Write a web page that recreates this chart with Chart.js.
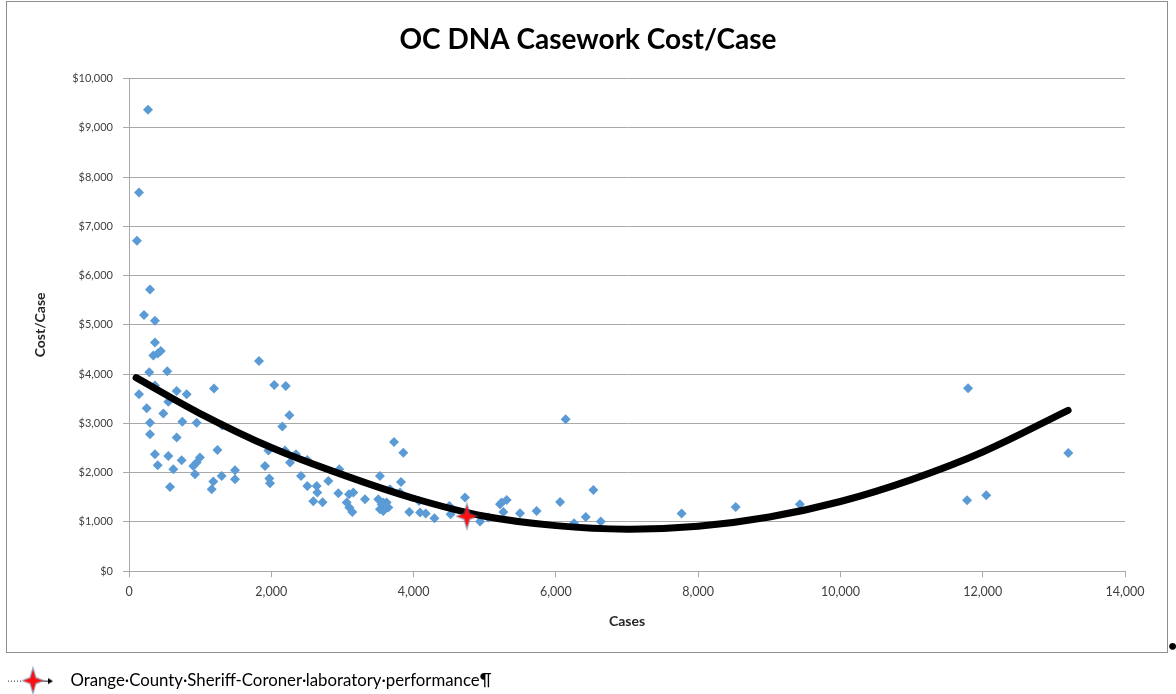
<!DOCTYPE html>
<html>
<head>
<meta charset="utf-8">
<script src="https://cdn.jsdelivr.net/npm/chart.js@4.4.1/dist/chart.umd.min.js"></script>
<style>
  html, body { margin: 0; padding: 0; background: #fff; overflow: hidden; }
  #wrap { width: 1176px; height: 700px; }
</style>
</head>
<body>
<div id="wrap"><canvas id="costChart" width="1176" height="700"></canvas></div>
<script>
// --- DATA ---
const caseCounts = [
  267, 141, 112, 295, 211, 365, 365, 342, 446, 403, 285, 538, 141, 365, 670, 811,
  1195, 249, 482, 553, 295, 749, 951, 1310, 295, 670, 1243, 365, 553, 740, 403, 623,
  997, 951, 904, 928, 576, 1185, 1303, 1162, 1490, 1490, 1827, 2042, 2203, 2254, 2155,
  2193, 1960, 2347, 2263, 2506, 1912, 1972, 1982, 2418, 2638, 2506, 2647, 2802, 2956,
  2942, 2591, 2721, 3092, 3153, 3317, 3060, 3097, 3139, 3527, 3823, 3725, 3856, 3504,
  3574, 3527, 3645, 3621, 3551, 3574, 3669, 3809, 3940, 4077, 4091, 4171, 4293, 4503,
  4520, 4723, 4934, 5050, 5215, 5239, 5309, 5262, 5496, 5730, 6059, 6137, 6527, 6420,
  6631, 6255, 7768, 8528, 9430, 11794, 11780, 12050, 13203
];
const costPerCase = [
  9370, 7690, 6710, 5720, 5200, 5085, 4645, 4380, 4470, 4420, 4040, 4060, 3590, 3770, 3660, 3590,
  3710, 3306, 3199, 3440, 3016, 3036, 3016, 2960, 2779, 2712, 2460, 2373, 2339, 2251, 2150, 2069,
  2306, 2205, 2136, 1968, 1710, 1819, 1933, 1663, 2049, 1866, 4266, 3780, 3760, 3164, 2935,
  2450, 2450, 2373, 2205, 2258, 2136, 1880, 1785, 1933, 1730, 1730, 1596, 1832, 2069,
  1582, 1420, 1400, 1562, 1596, 1460, 1394, 1292, 1203, 1933, 1811, 2623, 2407, 1460,
  1394, 1258, 1292, 1394, 1359, 1224, 1663, 1596, 1203, 1427, 1190, 1170, 1075, 1325,
  1156, 1495, 1010, 1089, 1359, 1394, 1447, 1203, 1176, 1224, 1406, 3083, 1650, 1102,
  1008, 974, 1170, 1304, 1360, 3712, 1440, 1540, 2400
];
// polynomial trend line as drawn in the picture
const trendCases = [100, 1000, 2000, 3000, 4000, 5000, 6000, 7000, 8000, 9000, 10000, 11000, 12000, 13200];
const trendCost  = [3930, 3200, 2510, 1960, 1480, 1115, 925, 852, 912, 1100, 1415, 1860, 2420, 3266];
// highlighted lab
const ocLabCases = [4750];
const ocLabCost  = [1115];
const ocLabLabel = 'Orange·County·Sheriff-Coroner·laboratory·performance¶';

const xTicks = [0, 2000, 4000, 6000, 8000, 10000, 12000, 14000];
const yTicks = [0, 1000, 2000, 3000, 4000, 5000, 6000, 7000, 8000, 9000, 10000];

const FONT = "Lato, 'Open Sans', sans-serif";
const GRID = '#a9a9a9';

// --- star markers ---
function drawStar(ctx, cx, cy) {
  const star = (rx, ry, ri) => {
    ctx.beginPath();
    ctx.moveTo(cx, cy - ry);
    ctx.lineTo(cx + ri, cy - ri);
    ctx.lineTo(cx + rx, cy);
    ctx.lineTo(cx + ri, cy + ri);
    ctx.lineTo(cx, cy + ry);
    ctx.lineTo(cx - ri, cy + ri);
    ctx.lineTo(cx - rx, cy);
    ctx.lineTo(cx - ri, cy - ri);
    ctx.closePath();
  };
  ctx.fillStyle = 'rgba(70, 100, 150, 0.55)';
  star(12, 15, 3.5);
  ctx.fill();
  ctx.fillStyle = '#ff1010';
  star(10, 11, 2.5);
  ctx.fill();
}

function makeStarPoint() {
  const c = document.createElement('canvas');
  c.width = 28; c.height = 34;
  drawStar(c.getContext('2d'), 14, 17);
  return c;
}

function makeLegendMarker() {
  const c = document.createElement('canvas');
  c.width = 60; c.height = 34;
  const ctx = c.getContext('2d');
  ctx.strokeStyle = '#222';
  ctx.lineWidth = 1;
  ctx.setLineDash([1, 2]);
  ctx.beginPath(); ctx.moveTo(1, 17.5); ctx.lineTo(16, 17.5); ctx.stroke();
  ctx.setLineDash([]);
  ctx.beginPath(); ctx.moveTo(34, 17.5); ctx.lineTo(42, 17.5); ctx.stroke();
  ctx.fillStyle = '#000';
  ctx.beginPath(); ctx.moveTo(46, 17.5); ctx.lineTo(41, 14.5); ctx.lineTo(41, 20.5); ctx.closePath(); ctx.fill();
  drawStar(ctx, 26, 17);
  return c;
}

// outer chart frame and the stray paragraph dot
const framePlugin = {
  id: 'frame',
  afterDraw(chart) {
    const ctx = chart.ctx;
    ctx.save();
    ctx.strokeStyle = '#8e8e8e';
    ctx.lineWidth = 1;
    ctx.strokeRect(6.5, 1.5, 1161, 651);
    ctx.fillStyle = '#000';
    ctx.font = 'bold 16px ' + FONT;
    ctx.fillText('•', 1168, 646);
    ctx.restore();
  }
};

const ctx = document.getElementById('costChart').getContext('2d');
const costChart = new Chart(ctx, {
  type: 'scatter',
  data: {
    datasets: [
      {
        label: ocLabLabel,
        data: ocLabCases.map((x, i) => ({ x, y: ocLabCost[i] })),
        pointStyle: makeStarPoint(),
        pointRadius: 10,
        showLine: false
      },
      {
        label: 'Trend',
        data: trendCases.map((x, i) => ({ x, y: trendCost[i] })),
        showLine: true,
        borderColor: '#000',
        borderWidth: 7,
        borderCapStyle: 'round',
        tension: 0.4,
        pointRadius: 0
      },
      {
        label: 'Labs',
        data: caseCounts.map((x, i) => ({ x, y: costPerCase[i] })),
        pointStyle: 'rectRot',
        pointRadius: 5,
        backgroundColor: '#5b9bd5',
        borderColor: '#5b9bd5',
        borderWidth: 0
      }
    ]
  },
  options: {
    responsive: false,
    animation: false,
    devicePixelRatio: 1,
    layout: { padding: { left: 0, right: 0, top: 0, bottom: 1 } },
    plugins: {
      tooltip: { enabled: false },
      title: {
        display: true,
        text: 'OC DNA Casework Cost/Case',
        color: '#000',
        font: { family: FONT, size: 28, weight: 'bold' },
        padding: { top: 23, bottom: 22 }
      },
      legend: {
        position: 'bottom',
        align: 'start',
        labels: {
          filter: item => item.datasetIndex === 0,
          usePointStyle: true,
          pointStyle: makeLegendMarker(),
          pointStyleWidth: 50,
          padding: 12,
          color: '#000',
          font: { family: FONT, size: 16.8 }
        }
      }
    },
    scales: {
      x: {
        type: 'linear',
        min: 0,
        max: 14000,
        afterBuildTicks: s => { s.ticks = xTicks.map(v => ({ value: v })); },
        afterFit: s => { s.height = 89; s.paddingRight = 51; },
        grid: { drawOnChartArea: false, drawTicks: true, tickLength: 6, color: GRID },
        border: { display: true, color: GRID },
        ticks: {
          padding: 7,
          color: '#404040',
          font: { family: FONT, size: 12.5 },
          callback: v => v.toLocaleString('en-US')
        },
        title: {
          display: true,
          text: 'Cases',
          color: '#262626',
          font: { family: FONT, size: 14, weight: 'bold' },
          padding: { top: 0, bottom: 30.6 }
        }
      },
      y: {
        type: 'linear',
        min: 0,
        max: 10000,
        afterBuildTicks: s => { s.ticks = yTicks.map(v => ({ value: v })); },
        afterFit: s => { s.width = 129; },
        grid: { color: GRID, tickLength: 6 },
        border: { display: true, color: GRID },
        ticks: {
          padding: 10,
          color: '#404040',
          font: { family: FONT, size: 11 },
          callback: v => '$' + v.toLocaleString('en-US')
        },
        title: {
          display: true,
          text: 'Cost/Case',
          color: '#262626',
          font: { family: FONT, size: 14, weight: 'bold' },
          padding: { top: 31.6, bottom: 0 }
        }
      }
    }
  },
  plugins: [framePlugin]
});
</script>
</body>
</html>
